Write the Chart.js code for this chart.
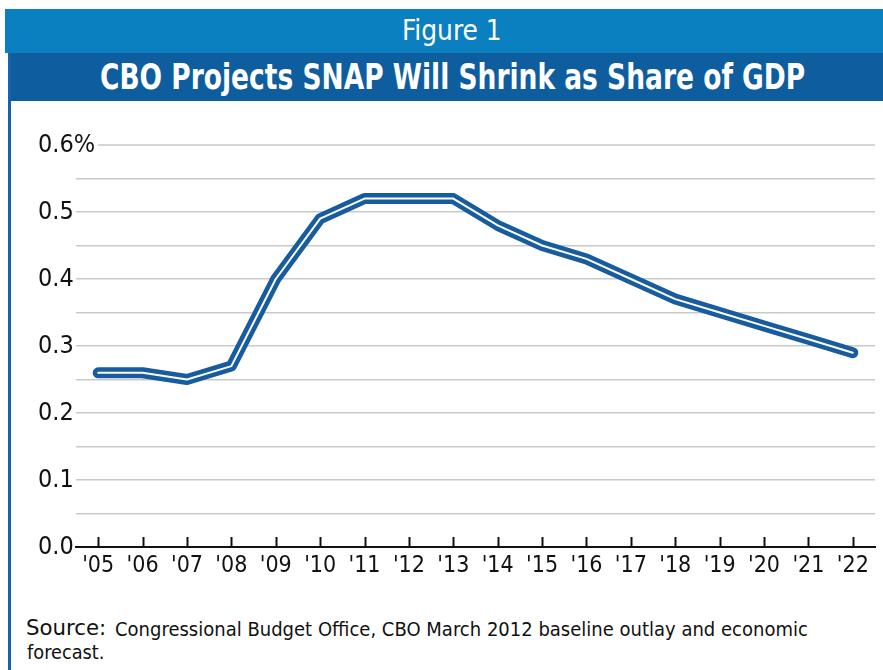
<!DOCTYPE html>
<html>
<head>
<meta charset="utf-8">
<script src="https://cdn.jsdelivr.net/npm/chart.js@4/dist/chart.umd.min.js"></script>
<style>
  html, body { margin: 0; padding: 0; background: #fff; }
  body { width: 883px; height: 670px; position: relative; overflow: hidden;
         font-family: 'Liberation Sans Narrow', 'DejaVu Sans Condensed', 'Liberation Sans', sans-serif; }
  #band1 { position: absolute; left: 5px; top: 9px; width: 878px; height: 44px; background: #0a80c1; }
  #band2 { position: absolute; left: 8px; top: 53px; width: 875px; height: 48px; background: #0e5d9f; }
  #leftBorder { position: absolute; left: 8px; top: 53px; width: 3px; height: 617px; background: #1463ad; }
  .fit { position: absolute; white-space: nowrap; color: #fff; transform-origin: 0 0; }
  #fig { top: 14px; font-size: 28px; }
  #title { top: 57px; font-size: 35px; font-weight: bold; }
  #src1 { left: 26px; top: 616px; font-size: 21px; color: #111; }
  #src2 { left: 115px; top: 618px; font-size: 19px; color: #111; }
  #src3 { left: 26px; top: 641px; font-size: 19px; color: #111; }
  #chartWrap { position: absolute; left: 0; top: 0; width: 883px; height: 670px; }
</style>
</head>
<body>
<div id="band1"></div>
<div id="band2"></div>
<div id="leftBorder"></div>
<div id="fig" class="fit" data-x="402" data-w="100">Figure 1</div>
<div id="title" class="fit" data-x="100" data-w="705">CBO Projects SNAP Will Shrink as Share of GDP</div>
<div id="src1" class="fit" data-x="26" data-w="80">Source:</div>
<div id="src2" class="fit" data-x="115" data-w="693">Congressional Budget Office, CBO March 2012 baseline outlay and economic</div>
<div id="src3" class="fit" data-x="27" data-w="78">forecast.</div>
<div id="chartWrap"><canvas id="c" width="883" height="670"></canvas></div>
<script>
// ---- data ----
const categories = ["'05","'06","'07","'08","'09","'10","'11","'12","'13","'14","'15","'16","'17","'18","'19","'20","'21","'22"];
const snapShareOfGDP = [0.26,0.26,0.25,0.27,0.40,0.49,0.52,0.52,0.52,0.48,0.45,0.43,0.40,0.37,0.35,0.33,0.31,0.29];
const yTickLabels = ['0.0','0.1','0.2','0.3','0.4','0.5','0.6%'];
const yMax = 0.6;

// fit header / source texts to target widths
document.querySelectorAll('.fit').forEach(el => {
  const w = el.offsetWidth;
  const target = +el.dataset.w;
  el.style.left = el.dataset.x + 'px';
  el.style.transform = 'scaleX(' + (target / w) + ')';
});

const FONT = "'Liberation Sans Narrow', 'DejaVu Sans Condensed', 'Liberation Sans', sans-serif";
const GRID = '#c9c9c9';
const Y_FONT_SIZE = 25;
const LABEL_LEFT = 38;

// x-axis tick marks pointing upward, and the top gridline that starts after the "0.6%" label
const extras = {
  id: 'extras',
  beforeDatasetsDraw(chart) {
    const ctx = chart.ctx, y = chart.scales.y, area = chart.chartArea;
    ctx.save();
    ctx.font = Y_FONT_SIZE + 'px ' + FONT;
    const labelRight = LABEL_LEFT + ctx.measureText(yTickLabels[yTickLabels.length - 1]).width;
    const py = Math.round(y.getPixelForValue(yMax));
    ctx.strokeStyle = GRID;
    ctx.lineWidth = 1.5;
    ctx.beginPath();
    ctx.moveTo(Math.max(area.left, labelRight + 3), py);
    ctx.lineTo(area.right, py);
    ctx.stroke();
    ctx.restore();
  },
  afterDraw(chart) {
    const ctx = chart.ctx, x = chart.scales.x, y = chart.scales.y;
    const base = y.getPixelForValue(0);
    ctx.save();
    ctx.strokeStyle = '#111';
    ctx.lineWidth = 2;
    categories.forEach((c, i) => {
      const px = Math.round(x.getPixelForValue(i)) + 0.5;
      ctx.beginPath();
      ctx.moveTo(px, base);
      ctx.lineTo(px, base - 10);
      ctx.stroke();
    });
    ctx.restore();
  }
};

new Chart(document.getElementById('c'), {
  type: 'line',
  data: {
    labels: categories,
    datasets: [
      { label: 'inner', data: snapShareOfGDP, borderColor: '#ffffff', borderWidth: 2,
        pointRadius: 0, tension: 0, borderCapStyle: 'round', borderJoinStyle: 'round', order: 0 },
      { label: 'SNAP', data: snapShareOfGDP, borderColor: '#175c9e', borderWidth: 11,
        pointRadius: 0, tension: 0, borderCapStyle: 'round', borderJoinStyle: 'round', order: 1 }
    ]
  },
  options: {
    responsive: false,
    animation: false,
    events: [],
    layout: { padding: { left: 0, right: 8, top: 145, bottom: 83 } },
    plugins: { legend: { display: false }, tooltip: { enabled: false } },
    scales: {
      x: {
        type: 'category',
        offset: true,
        grid: { display: true, drawOnChartArea: false, drawTicks: false },
        border: { display: true, color: '#111', width: 2 },
        ticks: { font: { family: FONT, size: 23 }, color: '#111', padding: 5, maxRotation: 0, autoSkip: false },
        afterFit(s) { s.height = 40; }
      },
      y: {
        min: 0, max: yMax,
        grid: {
          color: (c) => (c.tick && Math.abs(c.tick.value - yMax) < 1e-9 ? 'rgba(0,0,0,0)' : GRID),
          lineWidth: 1.5, drawTicks: false
        },
        border: { display: false },
        ticks: {
          stepSize: 0.05,
          mirror: true,
          crossAlign: 'near',
          padding: LABEL_LEFT - 76,
          font: { family: FONT, size: Y_FONT_SIZE },
          color: '#111',
          callback: (v, i) => (i % 2 === 0 ? yTickLabels[i / 2] : '')
        },
        afterFit(s) { s.width = 76; }
      }
    }
  },
  plugins: [extras]
});
</script>
</body>
</html>
